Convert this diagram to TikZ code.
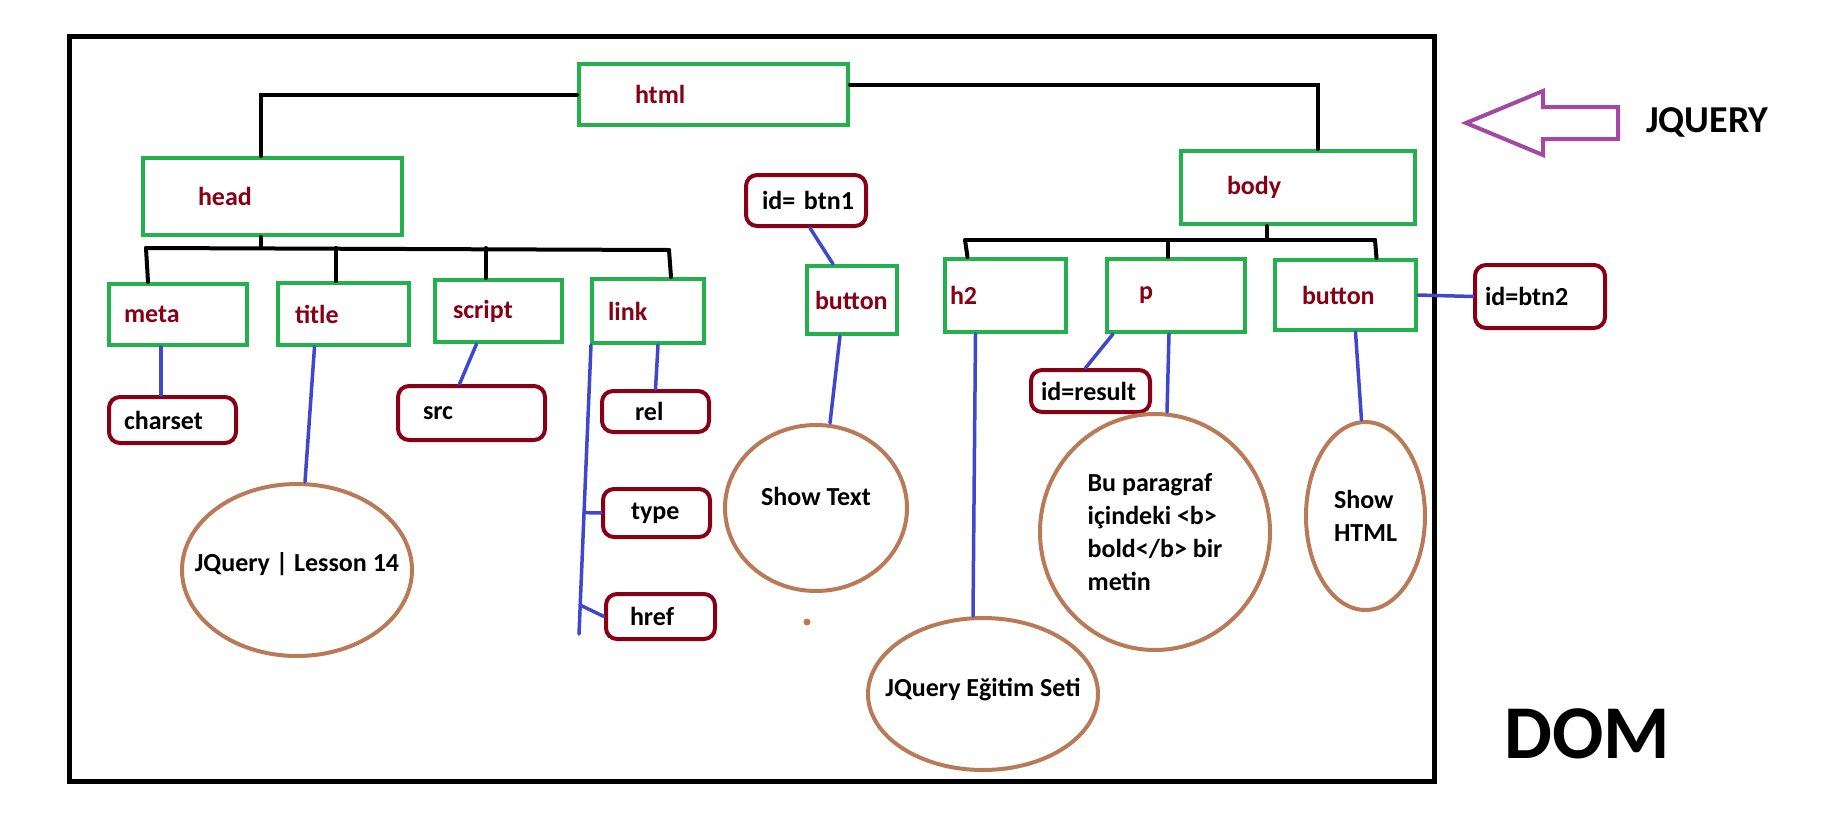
\documentclass[tikz,border=0pt]{standalone}
\usepackage{fontspec}
\setmainfont{Carlito}
\usetikzlibrary{shapes.geometric,calc}
\definecolor{pgreen}{HTML}{22B14C}
\definecolor{dred}{HTML}{880015}
\definecolor{ebrown}{HTML}{B97A57}
\definecolor{pblue}{HTML}{3F48CC}
\definecolor{ppurple}{HTML}{A349A4}
% style name x1 y1 x2 y2 pad text
\newcommand\gbox[8]{%
\pgfmathsetmacro\bw{#5-#3}\pgfmathsetmacro\bh{#6-#4}\pgfmathsetmacro\tw{max(#5-#3-2*#7,1)}%
\node[#1, minimum width=\bw pt, minimum height=\bh pt, inner xsep=#7pt, inner ysep=0pt, text width=\tw pt, anchor=north west] (#2) at (#3,#4) {\mbox{#8}};}
\newcommand\etext[2]{\raisebox{#1}[0pt][0pt]{\makebox[0pt]{#2}}}
\begin{document}
\begin{tikzpicture}[x=1pt,y=-1pt,
  every node/.style={font=\bfseries\fontsize{26}{33}\selectfont},
  gbox/.style={draw=pgreen, line width=4pt, text=dred, align=left},
  rbox/.style={draw=dred, line width=4pt, rounded corners=11pt, text=black, align=left},
  ell/.style={ellipse, draw=ebrown, line width=4pt, inner sep=0pt, text=black, align=left},
  blk/.style={line width=4pt, line cap=round},
  bl/.style={draw=pblue, line width=3.5pt, line cap=round}]
\useasboundingbox (0,0) rectangle (1848,820);
\fill[white] (0,0) rectangle (1848,820);
\draw[line width=5pt] (69,36) rectangle (1434,781);
% green boxes
\gbox{gbox}{html}{577}{62}{846}{123}{56}{html}
\gbox{gbox}{head}{141}{156}{400}{233}{55}{head}
\gbox{gbox}{body}{1179}{149}{1413}{222}{46}{body}
\gbox{gbox}{meta}{107}{282}{245}{343}{15}{meta}
\gbox{gbox}{title}{276}{281}{407}{343}{17}{title}
\gbox{gbox}{script}{433}{278}{560}{340}{18}{script}
\gbox{gbox}{link}{590}{277}{702}{341}{16}{link}
\gbox{gbox}{btnA}{805}{264}{895}{332}{8}{button}
\gbox{gbox}{h2}{943}{257}{1064}{330}{5}{h2}
\gbox{gbox}{p}{1105}{257}{1243}{330}{32}{p}
\gbox{gbox}{btnB}{1273}{258}{1414}{328}{27}{button}
% rounded boxes
\gbox{rbox}{idA}{744}{173}{864}{224}{16}{id= btn1}
\gbox{rbox}{charset}{107}{395}{234}{441}{15}{charset}
\gbox{rbox}{src}{396}{384}{543}{438}{25}{src}
\gbox{rbox}{rel}{600}{389}{707}{430}{33}{rel}
\gbox{rbox}{type}{601}{487}{708}{535}{28}{type}
\gbox{rbox}{href}{604}{592}{713}{637}{24}{href}
\gbox{rbox}{idres}{1029}{368}{1148}{410}{10}{id=result}
\gbox{rbox}{idB}{1473}{263}{1603}{326}{10}{id=btn2}
% ellipses
\node[ell, minimum width=230pt, minimum height=172pt] (lesson) at (297,570) {\etext{-1pt}{JQuery | Lesson 14}};
\node[ell, minimum width=182pt, minimum height=166pt] (showtext) at (816,508) {\etext{3pt}{Show Text}};
\node[ell, minimum width=230pt, minimum height=152pt] (egitim) at (983,694) {\etext{-2pt}{JQuery Eğitim Seti}};
\node[ell, minimum width=230pt, minimum height=236pt] (para) at (1155,532) {Bu paragraf\\içindeki <b>\\bold</b> bir\\metin};
\node[ell, minimum width=119pt, minimum height=188pt] (showhtml) at (1365.5,516) {Show\\HTML};
\fill[ebrown] (807,622) circle (3.5);
% black connectors
\draw[blk] (html.west) -| ([xshift=-12pt]head.north);
\draw[blk] ([yshift=10pt]html.east) -| ([xshift=20pt]body.north);
\coordinate (hbL) at (146,248);
\coordinate (hbR) at (669,250);
\draw[blk] ([xshift=-12pt]head.south) -- ([xshift=-12pt]head.south |- hbL);
\draw[blk] (hbL) -- (hbR);
\draw[blk] (hbL) -- ([xshift=-30pt]meta.north);
\draw[blk] ([xshift=-8pt]title.north) -- ([xshift=-8pt]title.north |- hbL);
\draw[blk] ([xshift=-13pt]script.north) -- ([xshift=-13pt]script.north |- hbL);
\draw[blk] (hbR) -- ([xshift=23pt]link.north);
\coordinate (bbL) at (965,240);
\coordinate (bbR) at (1375,240);
\draw[blk] ([xshift=-31pt]body.south) -- ([xshift=-31pt]body.south |- bbL);
\draw[blk] (bbL) -- (bbR);
\draw[blk] (bbL) -- ([xshift=-38pt]h2.north);
\draw[blk] ([xshift=-8pt]p.north) -- ([xshift=-8pt]p.north |- bbL);
\draw[blk] (bbR) -- ([xshift=31pt]btnB.north);
% blue connectors
\draw[bl] ([xshift=-17pt]meta.south) -- ([xshift=-17pt]meta.south |- charset.north);
\draw[bl] ([xshift=-29pt]title.south) -- ([xshift=8pt]lesson.north);
\draw[bl] ([xshift=-22pt]script.south) -- ([xshift=-12pt]src.north);
\draw[bl] ([xshift=10pt]link.south) -- (rel.north);
\coordinate (lkTop) at ([xshift=1pt]link.south west);
\coordinate (lkEnd) at (579,634);
\draw[bl] (lkTop) -- (lkEnd);
\draw[bl] ($(lkTop)!0.58!(lkEnd)$) -- (type.west);
\draw[bl] ($(lkTop)!0.9!(lkEnd)$) -- (href.west);
\draw[bl] ([xshift=4pt]idA.south) -- ([xshift=-19pt]btnA.north);
\draw[bl] ([xshift=-12pt]btnA.south) -- ([xshift=14pt]showtext.north);
\draw[bl] ([xshift=-30pt]h2.south) -- ([xshift=-10pt]egitim.north);
\draw[bl] ([xshift=8pt]p.south west) -- ([xshift=-5pt]idres.north);
\draw[bl] ([xshift=-7pt]p.south) -- ([xshift=12pt]para.north);
\draw[bl] ([xshift=10pt]btnB.south) -- ([xshift=-4pt]showhtml.north);
\draw[bl] (btnB.east) -- (idB.west);
% JQUERY arrow and labels
\draw[ppurple, line width=4pt, line join=miter] (1466,123) -- (1543,91) -- (1543,107) -- (1618,107) -- (1618,139) -- (1543,139) -- (1543,155) -- cycle;
\node[anchor=west, inner sep=0pt, font=\bfseries\fontsize{38}{40}\selectfont] (jq) at (1646,122) {JQUERY};
\node[anchor=west, inner sep=0pt, font=\bfseries\fontsize{76}{80}\selectfont] (dom) at (1504,734) {DOM};
\end{tikzpicture}
\end{document}
